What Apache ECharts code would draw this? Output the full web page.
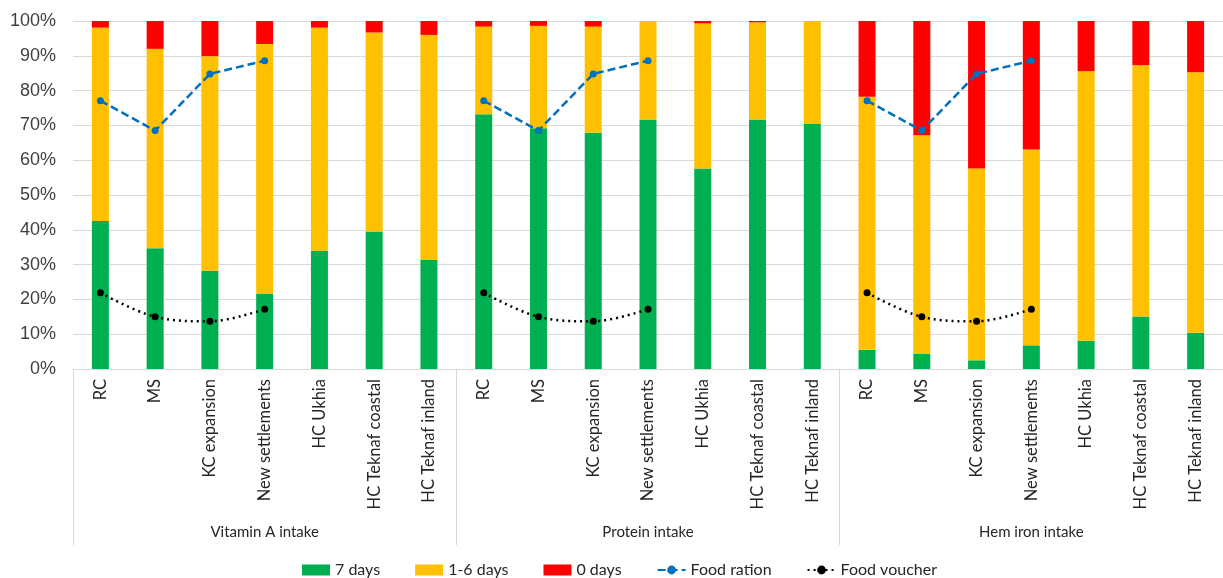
<!DOCTYPE html>
<html>
<head>
<meta charset="utf-8">
<script src="https://cdn.jsdelivr.net/npm/echarts@6/dist/echarts.min.js"></script>
<style>
  html, body { margin: 0; padding: 0; background: #ffffff; }
  #chart { width: 1223px; height: 578px; }
</style>
</head>
<body>
<div id="chart"></div>
<script>
// Sites surveyed within each nutrient group
const sites = ['RC', 'MS', 'KC expansion', 'New settlements', 'HC Ukhia', 'HC Teknaf coastal', 'HC Teknaf inland'];
const groups = ['Vitamin A intake', 'Protein intake', 'Hem iron intake'];

// Share of households (%) by days of consumption, groups in order
const days7 = [42.5, 34.7, 28.2, 21.7, 34.0, 39.5, 31.3,
               73.2, 69.2, 67.9, 71.7, 57.6, 71.7, 70.4,
               5.5, 4.3, 2.5, 6.8, 8.1, 15.1, 10.4];
const days1to6 = [55.6, 57.3, 61.7, 71.7, 64.1, 57.2, 64.7,
                  25.2, 29.4, 30.5, 28.3, 41.7, 27.9, 29.6,
                  72.7, 62.9, 55.1, 56.3, 77.5, 72.2, 74.9];
const days0 = [1.9, 8.0, 10.1, 6.6, 1.9, 3.3, 4.0,
               1.6, 1.4, 1.6, 0.0, 0.7, 0.4, 0.0,
               21.8, 32.8, 42.4, 36.9, 14.4, 12.7, 14.7];

// Assistance modality shares (%) for the camp sites (first four sites)
const foodRation = [77.1, 68.5, 84.8, 88.6];
const foodVoucher = [21.9, 15.0, 13.7, 17.2];

const yTicks = [0, 10, 20, 30, 40, 50, 60, 70, 80, 90, 100];

// One category per site per group
const categories = [];
groups.forEach(() => sites.forEach(s => categories.push(s)));

// Repeat a camp-only line per group; host-community sites stay empty so the line breaks
function perGroup(vals) {
  const out = [];
  groups.forEach(() => sites.forEach((s, i) => out.push(i < vals.length ? vals[i] : null)));
  return out;
}

const labelFont = 'Lato, "Open Sans", sans-serif';
const gridColor = '#d9d9d9';

const chart = echarts.init(document.getElementById('chart'), null, { renderer: 'canvas' });

const barCommon = { type: 'bar', stack: 'days', barWidth: 17, xAxisIndex: 0, yAxisIndex: 0 };

chart.setOption({
  animation: false,
  backgroundColor: '#ffffff',
  grid: [
    { left: 73, top: 21, width: 1151, bottom: 209, containLabel: false },
    { left: 73, top: 21, width: 1151, bottom: 209, containLabel: false }
  ],
  legend: {
    top: 557,
    left: 297,
    padding: [5, 5, 0, 5],
    itemWidth: 28,
    itemHeight: 11,
    itemGap: 35,
    textStyle: { fontFamily: labelFont, fontSize: 16, color: '#262626' },
    data: [
      { name: '7 days', icon: 'rect' },
      { name: '1-6 days', icon: 'rect' },
      { name: '0 days', icon: 'rect' },
      { name: 'Food ration' },
      { name: 'Food voucher' }
    ]
  },
  xAxis: [
    {
      type: 'category',
      gridIndex: 0,
      data: categories,
      axisLine: { show: true, lineStyle: { color: gridColor, width: 1 } },
      axisTick: { show: false },
      axisLabel: {
        rotate: 90,
        interval: 0,
        margin: 10,
        fontFamily: labelFont,
        fontSize: 16.5,
        color: '#262626'
      }
    },
    {
      // Group captions and separators below the site labels
      type: 'category',
      gridIndex: 1,
      position: 'bottom',
      data: groups,
      axisLine: { show: false },
      axisTick: { show: true, length: 176, lineStyle: { color: gridColor, width: 1 } },
      axisLabel: {
        interval: 0,
        margin: 156,
        fontFamily: labelFont,
        fontSize: 15,
        color: '#262626'
      }
    }
  ],
  yAxis: [
    {
      type: 'value',
      gridIndex: 0,
      min: yTicks[0],
      max: yTicks[yTicks.length - 1],
      interval: 10,
      axisLine: { show: false },
      axisTick: { show: false },
      splitLine: { lineStyle: { color: gridColor, width: 1 } },
      axisLabel: {
        formatter: '{value}%',
        margin: 17,
        fontFamily: '"Liberation Sans", Arial, sans-serif',
        fontSize: 18,
        color: '#404040'
      }
    },
    {
      type: 'value',
      gridIndex: 1,
      show: false,
      min: 0,
      max: 100
    }
  ],
  series: [
    Object.assign({ name: '7 days', data: days7, itemStyle: { color: '#00b050' } }, barCommon),
    Object.assign({ name: '1-6 days', data: days1to6, itemStyle: { color: '#ffc000' } }, barCommon),
    Object.assign({ name: '0 days', data: days0, itemStyle: { color: '#ff0000' } }, barCommon),
    {
      name: 'Food ration',
      type: 'line',
      data: perGroup(foodRation),
      connectNulls: false,
      symbol: 'circle',
      symbolSize: 7,
      itemStyle: { color: '#0070c0' },
      lineStyle: { color: '#0070c0', width: 2.5, type: [8, 4] },
      z: 5
    },
    {
      name: 'Food voucher',
      type: 'line',
      data: perGroup(foodVoucher),
      connectNulls: false,
      smooth: 0.35,
      symbol: 'circle',
      symbolSize: 7,
      itemStyle: { color: '#000000' },
      lineStyle: { color: '#000000', width: 2.5, type: [2, 4] },
      z: 5
    }
  ]
});
</script>
</body>
</html>
